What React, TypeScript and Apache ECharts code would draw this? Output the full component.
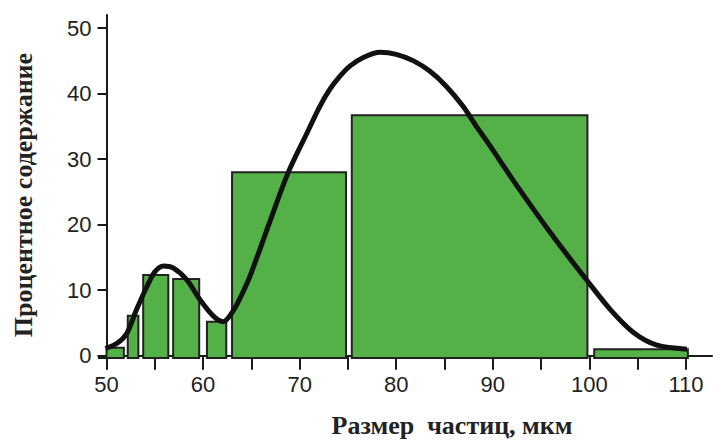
import React, { useEffect, useRef } from "react";
import * as echarts from "echarts";

// Histogram bins: start, end (мкм), percentage
const binStart = [50.0, 52.2, 53.8, 56.9, 60.4, 63.0, 75.4, 100.5];
const binEnd = [51.8, 53.3, 56.4, 59.6, 62.4, 74.8, 99.8, 110.2];
const binValue = [1.2, 6.1, 12.3, 11.7, 5.2, 28.0, 36.7, 1.0];

// Distribution curve points
const curveX = [49.9, 51.1, 52.1, 53.1, 54.2, 55.0, 55.9, 56.9, 58.3, 59.7, 61.1, 62.1, 63.1, 64.0, 64.9, 66.9, 68.8, 70.8, 72.0, 73.1, 74.2, 75.2, 76.6, 78.3, 80.0, 81.8, 83.5, 85.2, 86.9, 88.3, 89.4, 92.8, 96.3, 99.8, 102.2, 104.6, 107.0, 110.1];
const curveY = [1.1, 1.9, 3.4, 7.0, 10.6, 12.8, 13.7, 13.4, 11.6, 8.5, 6.0, 5.2, 6.8, 9.3, 12.3, 20.4, 27.9, 34.1, 37.8, 40.6, 42.7, 44.2, 45.5, 46.3, 46.0, 45.0, 43.4, 41.1, 38.1, 35.0, 32.7, 25.3, 18.1, 11.4, 7.0, 3.5, 1.6, 1.0];

const xLabels = [50, 60, 70, 80, 90, 100, 110];
const xTicks = [50, 55, 60, 65, 70, 75, 80, 85, 90, 95, 100, 105, 110];
const yTicks = [0, 10, 20, 30, 40, 50];

const yTitle = "Процентное содержание";
const xTitle = "Размер  частиц, мкм";

const X_MIN = 50;
const X_MAX = 112.7;
const Y_MIN = -0.35;
const Y_MAX = 52;

export default function App() {
  const ref = useRef<HTMLDivElement>(null);
  useEffect(() => {
    if (!ref.current) return;
    const chart = echarts.init(ref.current, null, { renderer: "svg" });
    const axisColor = "#1a1a1a";
    const labelFont = { fontFamily: "Liberation Sans", fontSize: 22, color: "#222" };
    const bars = binStart.map((s, i) => [s, binEnd[i], binValue[i]]);
    const curve = curveX.map((x, i) => [x, curveY[i]]);
    chart.setOption({
      animation: false,
      grid: { left: 106.5, right: 3, top: 15, bottom: 83 },
      xAxis: {
        type: "value",
        min: X_MIN,
        max: X_MAX,
        splitLine: { show: false },
        axisLine: { show: true, lineStyle: { color: axisColor, width: 2 } },
        axisTick: { show: true, length: 14, customValues: xTicks, lineStyle: { color: axisColor, width: 2 } },
        axisLabel: { customValues: xLabels, margin: 15, ...labelFont },
      },
      yAxis: {
        type: "value",
        min: Y_MIN,
        max: Y_MAX,
        splitLine: { show: false },
        axisLine: { show: true, lineStyle: { color: axisColor, width: 2 } },
        axisTick: { show: true, length: 9, customValues: yTicks, lineStyle: { color: axisColor, width: 2 } },
        axisLabel: { customValues: yTicks, margin: 15, ...labelFont },
      },
      graphic: [
        {
          type: "line",
          shape: { x1: 98, y1: 358, x2: 107, y2: 358 },
          style: { stroke: axisColor, lineWidth: 2 },
        },
        {
          type: "text",
          x: 23,
          y: 195,
          rotation: Math.PI / 2,
          style: {
            text: yTitle,
            fontFamily: "Liberation Serif",
            fontWeight: "bold",
            fontSize: 26,
            fill: "#222",
            align: "center",
            verticalAlign: "middle",
          },
        },
        {
          type: "text",
          x: 452,
          y: 425,
          style: {
            text: xTitle,
            fontFamily: "Liberation Serif",
            fontWeight: "bold",
            fontSize: 26,
            fill: "#222",
            align: "center",
            verticalAlign: "middle",
          },
        },
      ],
      series: [
        {
          type: "custom",
          data: bars,
          encode: { x: [0, 1], y: 2 },
          renderItem: (params: any, api: any) => {
            const p0 = api.coord([api.value(0), Y_MIN]);
            const p1 = api.coord([api.value(1), api.value(2)]);
            return {
              type: "rect",
              shape: { x: p0[0], y: p1[1], width: p1[0] - p0[0], height: p0[1] - p1[1] },
              style: { fill: "#53b147", stroke: "#222", lineWidth: 2 },
            };
          },
          z: 2,
        },
        {
          type: "line",
          data: curve,
          smooth: 0.3,
          symbol: "none",
          clip: false,
          lineStyle: { color: "#111", width: 5 },
          z: 3,
        },
      ],
    });
    return () => chart.dispose();
  }, []);
  return (
    <div
      ref={ref}
      style={{ position: "fixed", left: 0, top: 0, width: 715, height: 441, background: "#fff" }}
    />
  );
}
